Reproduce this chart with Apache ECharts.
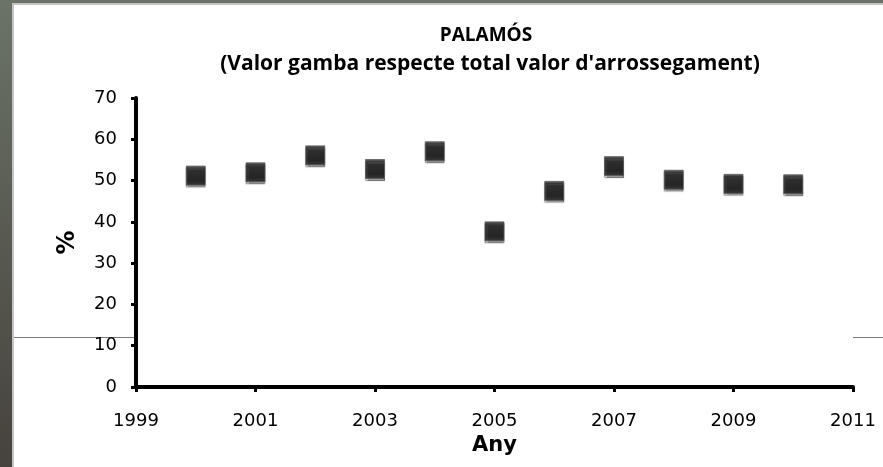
<!DOCTYPE html>
<html>
<head>
<meta charset="utf-8">
<script src="https://cdn.jsdelivr.net/npm/echarts@6/dist/echarts.min.js"></script>
<style>
  html, body { margin: 0; padding: 0; }
  #chart { width: 883px; height: 467px; }
</style>
</head>
<body>
<div id="chart"></div>
<script>
// Palamós: shrimp value as % of total trawl value
const years = [2000, 2001, 2002, 2003, 2004, 2005, 2006, 2007, 2008, 2009, 2010];
const percent = [51.2, 52.0, 56.1, 52.8, 57.1, 37.7, 47.5, 53.5, 50.2, 49.2, 49.1];
const firstYear = 1999;
const lastYear = 2011;

const chart = echarts.init(document.getElementById("chart"));

const points = years.map((y, i) => [y - firstYear, percent[i]]);

const option = {
  animation: false,
  graphic: [
    {
      type: "rect",
      z: -10,
      shape: { x: 0, y: 0, width: 883, height: 467 },
      style: {
        fill: new echarts.graphic.LinearGradient(0, 0, 0, 1, [
          { offset: 0, color: "#6b7368" },
          { offset: 1, color: "#46423d" }
        ])
      }
    },
    {
      type: "rect",
      z: -9,
      shape: { x: 13, y: 4, width: 880, height: 470 },
      style: { fill: "#ffffff", stroke: "#c4c4c4", lineWidth: 2 }
    },
    {
      type: "line",
      z: -8,
      shape: { x1: 14, y1: 337.5, x2: 136, y2: 337.5 },
      style: { stroke: "#7a7a7a", lineWidth: 1 }
    },
    {
      type: "line",
      z: -8,
      shape: { x1: 853, y1: 337.5, x2: 883, y2: 337.5 },
      style: { stroke: "#7a7a7a", lineWidth: 1 }
    }
  ],
  title: [
    {
      text: "PALAMÓS",
      left: 481,
      top: 21,
      textAlign: "center",
      textStyle: { fontFamily: "Open Sans", fontWeight: "bold", fontSize: 19, color: "#000" }
    },
    {
      text: "(Valor gamba respecte total valor d'arrossegament)",
      left: 485,
      top: 49,
      textAlign: "center",
      textStyle: { fontFamily: "Open Sans", fontWeight: "bold", fontSize: 21, color: "#000" }
    }
  ],
  grid: {
    left: 136,
    right: 30,
    top: 98,
    bottom: 80,
    show: true,
    backgroundColor: "#ffffff",
    borderWidth: 0
  },
  xAxis: {
    type: "value",
    min: 0,
    max: lastYear - firstYear,
    interval: 2,
    name: "Any",
    nameLocation: "middle",
    nameGap: 45,
    nameTextStyle: { fontFamily: "DejaVu Sans", fontWeight: "bold", fontSize: 21, color: "#000" },
    axisLine: { show: true, lineStyle: { color: "#000", width: 4 } },
    axisTick: { show: true, length: 5, lineStyle: { color: "#000", width: 3 } },
    axisLabel: {
      margin: 25,
      fontFamily: "DejaVu Sans",
      fontSize: 18,
      color: "#000",
      formatter: v => String(v + firstYear)
    },
    splitLine: { show: false }
  },
  yAxis: {
    type: "value",
    min: 0,
    max: 70,
    interval: 10,
    name: "%",
    nameLocation: "middle",
    nameRotate: 90,
    nameGap: 56,
    nameTextStyle: { fontFamily: "DejaVu Sans", fontWeight: "bold", fontSize: 24, color: "#000" },
    axisLine: { show: true, lineStyle: { color: "#000", width: 4 } },
    axisTick: { show: true, length: 5, lineStyle: { color: "#000", width: 3 } },
    axisLabel: { margin: 19, fontFamily: "DejaVu Sans", fontSize: 18, color: "#000" },
    splitLine: { show: false }
  },
  series: [
    {
      type: "scatter",
      data: points,
      symbol: "rect",
      symbolSize: 19,
      itemStyle: {
        color: new echarts.graphic.LinearGradient(0, 0, 0, 1, [
          { offset: 0, color: "#3a3a3a" },
          { offset: 0.25, color: "#111111" },
          { offset: 0.75, color: "#050505" },
          { offset: 1, color: "#1e1e1e" }
        ]),
        borderColor: "#5a5a5a",
        borderWidth: 1,
        shadowColor: "rgba(0,0,0,0.45)",
        shadowOffsetY: 2,
        shadowBlur: 1
      }
    }
  ]
};

chart.setOption(option);
</script>
</body>
</html>
